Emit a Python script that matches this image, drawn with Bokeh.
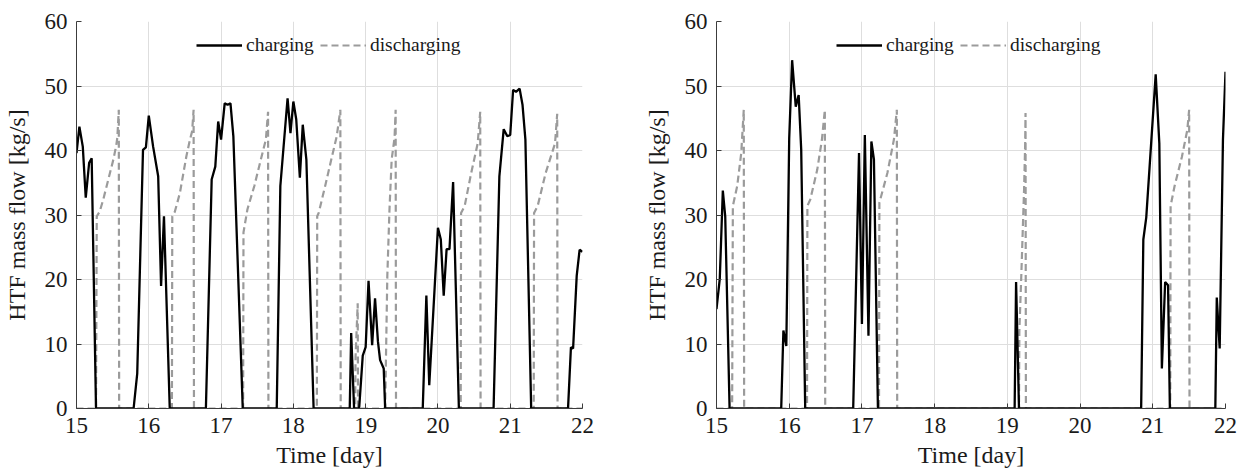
from bokeh.plotting import figure
from bokeh.models import Range1d, Legend, LegendItem, FixedTicker
from bokeh.layouts import row
from bokeh.embed import file_html
from bokeh.resources import INLINE

# ---------------- data ----------------
left_charge_t = [15.0, 15.04, 15.087, 15.128, 15.175, 15.21, 15.27,
                 15.79, 15.84, 15.92, 15.96, 16.0, 16.06, 16.13, 16.17, 16.21, 16.29,
                 16.79, 16.87, 16.92, 16.96, 17.0, 17.05, 17.09, 17.13, 17.17, 17.30,
                 17.77, 17.82, 17.92, 17.96, 18.0, 18.04, 18.09, 18.13, 18.18, 18.28,
                 18.78, 18.80, 18.84, 18.91, 18.96, 19.0, 19.04, 19.09, 19.13, 19.17, 19.20, 19.25, 19.27,
                 19.79, 19.84, 19.88, 20.0, 20.04, 20.08, 20.12, 20.16, 20.21, 20.29,
                 20.77, 20.85, 20.91, 20.96, 21.0, 21.04, 21.08, 21.13, 21.17, 21.21, 21.29,
                 21.80, 21.84, 21.87, 21.92, 21.96, 22.0]
left_charge_v = [39.6, 43.7, 40.6, 32.7, 38.1, 38.8, 0,
                 0, 5.4, 40.1, 40.5, 45.4, 40.6, 36.0, 19.0, 29.8, 0,
                 0, 35.5, 37.5, 44.5, 41.7, 47.3, 47.1, 47.3, 42.2, 0,
                 0, 34.5, 48.1, 42.7, 47.6, 44.8, 35.8, 44.0, 38.6, 0,
                 0, 11.7, 0, 0, 8.2, 9.5, 19.8, 9.8, 17.1, 10.4, 7.5, 6.2, 0,
                 0, 17.5, 3.6, 28.0, 26.2, 17.5, 24.7, 24.7, 35.1, 0,
                 0, 36.0, 43.3, 42.2, 42.4, 49.4, 49.1, 49.6, 47.1, 41.7, 0,
                 0, 9.5, 9.3, 20.6, 24.6, 24.3]

left_dis_t = [15.0, 15.27, 15.28, 15.32, 15.37, 15.44, 15.51, 15.55, 15.565, 15.585, 15.59,
              16.32, 16.325, 16.36, 16.43, 16.52, 16.57, 16.60, 16.62, 16.625,
              17.305, 17.31, 17.365, 17.46, 17.55, 17.62, 17.65, 17.655,
              18.325, 18.33, 18.35, 18.44, 18.535, 18.60, 18.65, 18.655,
              18.855, 18.86, 18.875, 18.89, 18.895,
              19.27, 19.28, 19.30, 19.33, 19.36, 19.40, 19.415, 19.42,
              20.315, 20.32, 20.37, 20.46, 20.55, 20.585, 20.59,
              21.325, 21.33, 21.38, 21.49, 21.62, 21.65, 21.655, 22.0]
left_dis_v = [0, 0, 29.8, 30.5, 32.4, 35.5, 38.6, 40.8, 42.0, 46.3, 0,
              0, 29.8, 30.5, 33.4, 39.1, 41.7, 43.0, 46.3, 0,
              0, 27.3, 30.9, 34.5, 38.6, 41.7, 46.0, 0,
              0, 29.8, 30.3, 34.5, 39.1, 42.2, 46.3, 0,
              0, 8.0, 12.0, 16.3, 0,
              0, 7.0, 20.6, 30.9, 38.6, 42.0, 46.3, 0,
              0, 30.3, 31.4, 36.5, 41.1, 46.0, 0,
              0, 30.3, 31.4, 36.5, 41.1, 45.7, 0, 0]

right_charge_t = [15.0, 15.045, 15.087, 15.12, 15.18,
                  15.89, 15.92, 15.96, 16.0, 16.04, 16.09, 16.13, 16.165, 16.22,
                  16.88, 16.96, 17.0, 17.04, 17.09, 17.13, 17.165, 17.22,
                  19.10, 19.12, 19.16,
                  20.84, 20.87, 20.91, 21.04, 21.09, 21.125, 21.17, 21.21, 21.235,
                  21.86, 21.88, 21.92, 21.965, 22.0]
right_charge_v = [15.4, 20.1, 33.8, 29.8, 0,
                  0, 12.1, 9.7, 41.9, 54.0, 46.8, 48.6, 40.1, 0,
                  0, 39.6, 13.1, 42.4, 11.3, 41.4, 38.6, 0,
                  0, 19.6, 0,
                  0, 26.2, 29.6, 51.8, 41.1, 6.2, 19.6, 19.1, 0,
                  0, 17.2, 9.3, 41.7, 52.2]

right_dis_t = [15.0, 15.215, 15.225, 15.285, 15.34, 15.375, 15.38,
               16.245, 16.25, 16.29, 16.385, 16.45, 16.49, 16.495,
               17.235, 17.24, 17.35, 17.44, 17.48, 17.485,
               19.16, 19.165, 19.19, 19.21, 19.23, 19.245, 19.25, 19.255,
               21.24, 21.245, 21.30, 21.40, 21.475, 21.50, 21.505, 22.0]
right_dis_v = [0, 0, 31.4, 34.5, 39.6, 46.3, 0,
               0, 31.4, 32.4, 37.0, 41.7, 46.3, 0,
               0, 31.9, 36.5, 41.7, 46.3, 0,
               0, 12.0, 20.0, 27.0, 34.0, 41.0, 45.8, 0,
               0, 31.4, 34.5, 39.0, 43.2, 46.3, 0, 0]

x_ticks = [15, 16, 17, 18, 19, 20, 21, 22]
y_ticks = [0, 10, 20, 30, 40, 50, 60]
legend_labels = ["charging", "discharging"]
x_label = "Time [day]"
y_label = "HTF mass flow [kg/s]"

FONT = "Liberation Serif"
TXT = "#1a1a1a"
GREY = "#9b9b9b"


def make_panel(ct, cv, dt, dv, width, border_left, border_right):
    p = figure(width=width, height=470, output_backend="svg", toolbar_location=None,
               x_range=Range1d(15, 22), y_range=Range1d(0, 60),
               min_border_left=border_left, min_border_right=border_right,
               min_border_top=21, min_border_bottom=60)
    p.outline_line_color = None
    p.background_fill_color = "white"
    p.border_fill_color = "white"

    for ax in (p.xaxis[0], p.yaxis[0]):
        ax.axis_line_color = "#3c3c3c"
        ax.axis_line_width = 1
        ax.major_tick_line_color = "#3c3c3c"
        ax.major_tick_in = 5
        ax.major_tick_out = 0
        ax.minor_tick_line_color = None
        ax.major_label_text_font = FONT
        ax.major_label_text_font_size = "23px"
        ax.major_label_text_color = TXT
        ax.axis_label_text_font = FONT
        ax.axis_label_text_font_size = "24px"
        ax.axis_label_text_font_style = "normal"
        ax.axis_label_text_color = TXT
    p.xaxis.ticker = FixedTicker(ticks=x_ticks)
    p.yaxis.ticker = FixedTicker(ticks=y_ticks)
    p.xaxis.axis_label = x_label
    p.yaxis.axis_label = y_label
    p.xaxis.major_label_standoff = 9
    p.yaxis.major_label_standoff = 9
    p.xaxis.axis_label_standoff = 6
    p.yaxis.axis_label_standoff = 12

    p.xgrid.ticker = FixedTicker(ticks=x_ticks)
    p.ygrid.ticker = FixedTicker(ticks=y_ticks)
    for g in (p.xgrid[0], p.ygrid[0]):
        g.grid_line_color = "#dedede"
        g.grid_line_width = 1

    rd = p.line(dt, dv, line_color=GREY, line_width=2.2, line_dash="7 4")
    rc = p.line(ct, cv, line_color="black", line_width=2.3)

    leg = Legend(items=[LegendItem(label=legend_labels[0], renderers=[rc]),
                        LegendItem(label=legend_labels[1], renderers=[rd])],
                 orientation="horizontal", location=(120, 352),
                 padding=0, margin=0, spacing=6,
                 glyph_width=46, glyph_height=20, label_standoff=4,
                 label_text_font=FONT, label_text_font_size="19.5px",
                 label_text_color=TXT,
                 border_line_color=None, background_fill_alpha=0)
    p.add_layout(leg)
    return p


p1 = make_panel(left_charge_t, left_charge_v, left_dis_t, left_dis_v, 612, 73, 30)
p2 = make_panel(right_charge_t, right_charge_v, right_dis_t, right_dis_v, 629, 104, 16)

layout = row(p1, p2)
open("out.html", "w").write(file_html(layout, INLINE))
